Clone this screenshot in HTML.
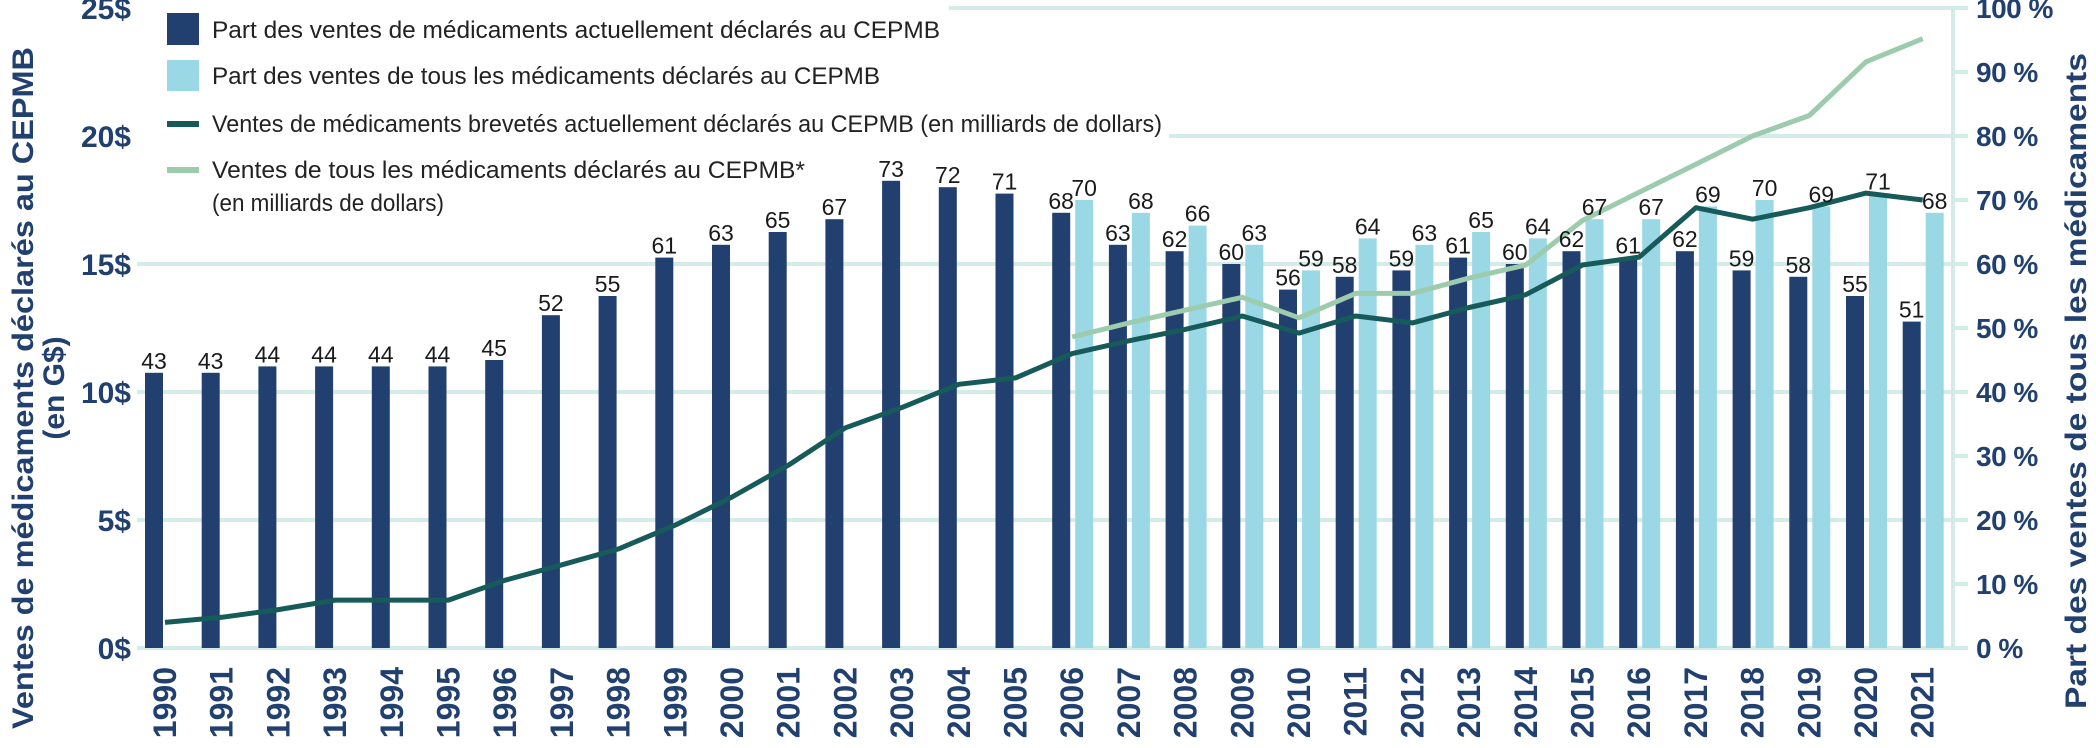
<!DOCTYPE html>
<html><head><meta charset="utf-8"><style>
html,body{margin:0;padding:0;background:#fff;}
svg{display:block;font-family:"Liberation Sans",sans-serif;}
</style></head><body>
<svg id="chart" width="2096" height="748" viewBox="0 0 2096 748" xmlns="http://www.w3.org/2000/svg">
<g id="grid"></g>
<g id="bars"></g>
<g id="lines"></g>
<g id="labels"></g>
<g id="axes"></g>
<g>
  <rect x="167" y="13" width="32" height="32" fill="#21406f"/>
  <text x="212" y="38" font-size="24" fill="#222" textLength="728" lengthAdjust="spacingAndGlyphs">Part des ventes de médicaments actuellement déclarés au CEPMB</text>
  <rect x="167" y="60" width="32" height="31" fill="#9bd8e6"/>
  <text x="212" y="84" font-size="24" fill="#222" textLength="668" lengthAdjust="spacingAndGlyphs">Part des ventes de tous les médicaments déclarés au CEPMB</text>
  <rect x="167" y="121" width="32" height="6" fill="#175a5a"/>
  <text x="212" y="132" font-size="24" fill="#222" textLength="950" lengthAdjust="spacingAndGlyphs">Ventes de médicaments brevetés actuellement déclarés au CEPMB (en milliards de dollars)</text>
  <rect x="167" y="167" width="32" height="6" fill="#9ccbae"/>
  <text x="212" y="178" font-size="24" fill="#222" textLength="593" lengthAdjust="spacingAndGlyphs">Ventes de tous les médicaments déclarés au CEPMB*</text>
  <text x="212" y="211" font-size="24" fill="#222" textLength="232" lengthAdjust="spacingAndGlyphs">(en milliards de dollars)</text>
</g>
<text transform="translate(33,388) rotate(-90)" text-anchor="middle" font-size="30" font-weight="bold" fill="#21406f" textLength="682" lengthAdjust="spacingAndGlyphs">Ventes de médicaments déclarés au CEPMB</text>
<text transform="translate(64,388) rotate(-90)" text-anchor="middle" font-size="30" font-weight="bold" fill="#21406f">(en G$)</text>
<text transform="translate(2086,381) rotate(-90)" text-anchor="middle" font-size="30" font-weight="bold" fill="#21406f" textLength="656" lengthAdjust="spacingAndGlyphs">Part des ventes de tous les médicaments</text>
</svg>
<script>
const years = [1990,1991,1992,1993,1994,1995,1996,1997,1998,1999,2000,2001,2002,2003,2004,2005,2006,2007,2008,2009,2010,2011,2012,2013,2014,2015,2016,2017,2018,2019,2020,2021];
const shareCurrent = [43,43,44,44,44,44,45,52,55,61,63,65,67,73,72,71,68,63,62,60,56,58,59,61,60,62,61,62,59,58,55,51];
const shareAll = [null,null,null,null,null,null,null,null,null,null,null,null,null,null,null,null,70,68,66,63,59,64,63,65,64,67,67,69,70,69,71,68];
const salesPatented = [1.0,1.2,1.5,1.87,1.87,1.87,2.65,3.25,3.87,4.8,5.9,7.15,8.6,9.4,10.3,10.55,11.5,12.0,12.45,12.97,12.3,12.97,12.7,13.3,13.8,14.96,15.27,17.2,16.75,17.2,17.77,17.5];
const salesAll = [null,null,null,null,null,null,null,null,null,null,null,null,null,null,null,null,12.15,12.7,13.2,13.7,12.9,13.85,13.85,14.45,14.96,16.7,17.8,18.9,20.0,20.8,22.9,23.8];
const leftTicks = [0,5,10,15,20,25];
const rightTicks = [0,10,20,30,40,50,60,70,80,90,100];

const NS = "http://www.w3.org/2000/svg";
const Y0 = 648, YTOP = 8, X0 = 145, STEP = 56.7, BW = 18, LOFF = 23;
const yL = v => Y0 - (v / 25) * (Y0 - YTOP);
const yR = v => Y0 - (v / 100) * (Y0 - YTOP);
const xBar = i => X0 + i * STEP;
function mk(tag, attrs, parent){const e=document.createElementNS(NS,tag);for(const k in attrs)e.setAttribute(k,attrs[k]);parent.appendChild(e);return e;}
const G = id => document.getElementById(id);

leftTicks.forEach(t => {
  const y = yL(t);
  let xs = 137;
  if (t === 25) xs = 949;
  if (t === 20) xs = 1169;
  const l = mk('line',{x1:xs,x2:1968,y1:y,y2:y,stroke:'#d3ece8','stroke-width':4},G('grid'));
  
  
  const tx = mk('text',{x:131,y:y+11,'text-anchor':'end','font-size':30,'font-weight':'bold',fill:'#21406f'},G('axes'));
  tx.textContent = t + '$';
  
  
});
const ax = mk('line',{x1:1953,x2:1953,y1:YTOP-2,y2:Y0+2,stroke:'#d3ece8','stroke-width':4},G('grid'));


rightTicks.forEach(t => {
  const y = yR(t);
  const tk = mk('line',{x1:1953,x2:1968,y1:y,y2:y,stroke:'#d3ece8','stroke-width':4},G('grid'));
  
  
  const tx = mk('text',{x:1976,y:y+10,'font-size':28,'font-weight':'bold',fill:'#21406f','letter-spacing':'-0.5'},G('axes'));
  tx.textContent = t + ' %';
  
  
});

years.forEach((yr,i) => {
  const x = xBar(i);
  const v = shareCurrent[i];
  const b = mk('rect',{x:x,y:yR(v),width:BW,height:Y0-yR(v),fill:'#21406f'},G('bars'));
  
  
  const lb = mk('text',{x:x+BW/2,y:yR(v)-4,'text-anchor':'middle','font-size':23,fill:'#1a1a1a'},G('labels'));
  lb.textContent = v;
  
  
  const a = shareAll[i];
  if (a !== null) {
    const b2 = mk('rect',{x:x+LOFF,y:yR(a),width:BW,height:Y0-yR(a),fill:'#9bd8e6'},G('bars'));
    
    
    const lb2 = mk('text',{x:x+LOFF+BW/2,y:yR(a)-4,'text-anchor':'middle','font-size':23,fill:'#1a1a1a'},G('labels'));
    lb2.textContent = a;
    
    
  }
  const yt = mk('text',{transform:'translate('+(x+31)+',667) rotate(-90)','text-anchor':'end','font-size':32,'font-weight':'bold',fill:'#21406f'},G('axes'));
  yt.textContent = yr;
  
  
});

function pts(arr){const p=[];arr.forEach((v,i)=>{if(v!==null)p.push((xBar(i)+20).toFixed(1)+','+yL(v).toFixed(1));});return p.join(' ');}
const l2 = mk('polyline',{points:pts(salesAll),fill:'none',stroke:'#9ccbae','stroke-width':5,'stroke-linejoin':'round'},G('lines'));


const l1 = mk('polyline',{points:pts(salesPatented),fill:'none',stroke:'#175a5a','stroke-width':5,'stroke-linejoin':'round'},G('lines'));


</script>
</body></html>
